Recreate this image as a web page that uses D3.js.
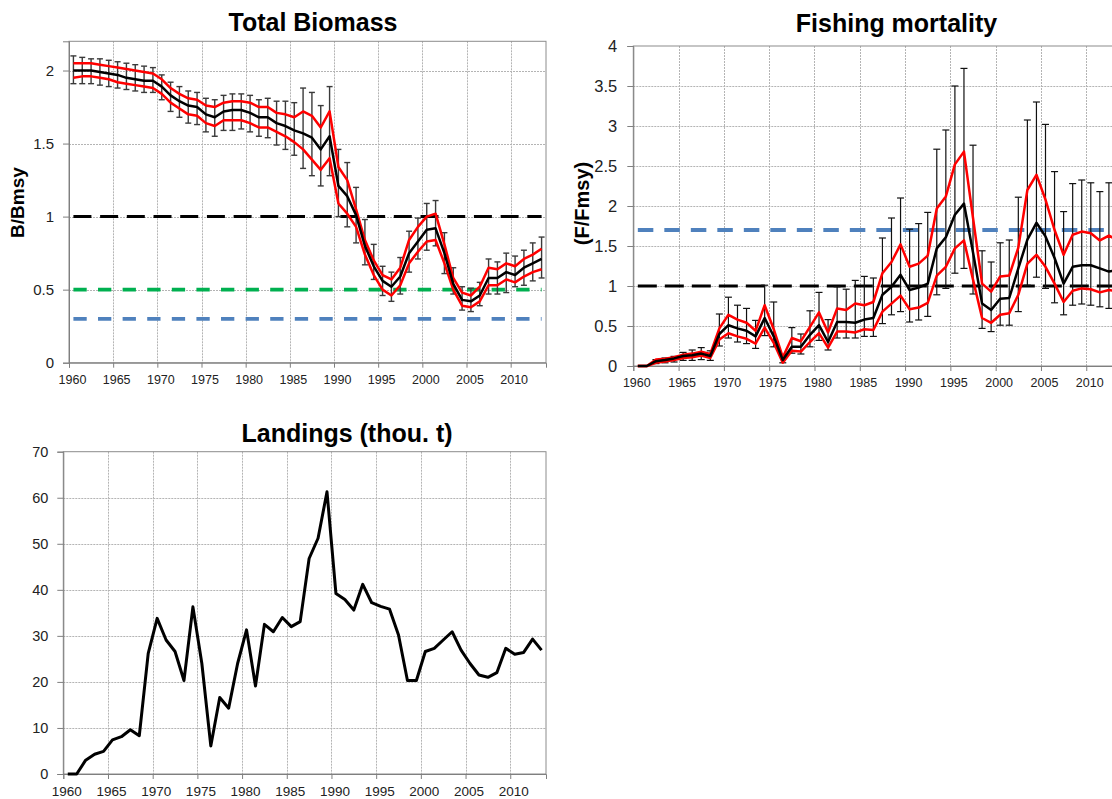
<!DOCTYPE html>
<html>
<head>
<meta charset="utf-8">
<script src="https://cdn.jsdelivr.net/npm/d3@7"></script>
<style>
  body { margin: 0; background: #fff; }
  svg { display: block; }
  text { font-family: "Liberation Sans", Arial, sans-serif; }
</style>
</head>
<body>
<svg id="chart" width="1112" height="799"></svg>
<script>
// ---- data: one value per year, 1960-2013 ----
const years = d3.range(1960, 2014);
const yearTicks = d3.range(1960, 2011, 5);

// Total biomass relative to Bmsy
const biomassMean = [2.00,2.00,2.00,1.99,1.98,1.97,1.95,1.94,1.93,1.93,
  1.89,1.83,1.79,1.76,1.75,1.70,1.68,1.72,1.73,1.73,
  1.71,1.68,1.68,1.64,1.62,1.59,1.57,1.54,1.46,1.55,
  1.21,1.14,1.01,0.80,0.66,0.56,0.52,0.59,0.75,0.83,
  0.91,0.92,0.75,0.54,0.43,0.42,0.46,0.58,0.58,0.62,
  0.60,0.65,0.68,0.71];
const biomassUpper = [2.05,2.05,2.05,2.04,2.03,2.02,2.01,2.00,1.99,1.98,
  1.94,1.88,1.84,1.81,1.80,1.76,1.75,1.78,1.79,1.79,
  1.78,1.75,1.75,1.71,1.70,1.68,1.72,1.69,1.61,1.72,
  1.34,1.25,1.05,0.84,0.70,0.60,0.57,0.65,0.84,0.93,
  1.00,1.02,0.81,0.58,0.48,0.46,0.52,0.65,0.64,0.68,
  0.66,0.71,0.74,0.78];
const biomassLower = [1.95,1.96,1.96,1.95,1.94,1.92,1.91,1.90,1.89,1.88,
  1.84,1.78,1.74,1.70,1.69,1.64,1.62,1.66,1.66,1.66,
  1.64,1.61,1.61,1.58,1.55,1.51,1.46,1.39,1.32,1.40,
  1.09,1.02,0.93,0.74,0.60,0.50,0.46,0.53,0.68,0.76,
  0.83,0.84,0.68,0.50,0.39,0.38,0.42,0.53,0.53,0.57,
  0.55,0.59,0.62,0.64];
const biomassErrHigh = [2.10,2.09,2.08,2.08,2.07,2.06,2.05,2.04,2.03,2.02,
  1.97,1.92,1.89,1.86,1.85,1.81,1.80,1.83,1.84,1.84,
  1.83,1.80,1.81,1.79,1.79,1.78,1.88,1.85,1.76,1.89,
  1.46,1.37,1.20,0.98,0.81,0.66,0.62,0.72,0.90,0.99,
  1.09,1.11,0.89,0.65,0.52,0.51,0.55,0.71,0.69,0.75,
  0.73,0.77,0.82,0.86];
const biomassErrLow = [1.91,1.91,1.91,1.90,1.89,1.88,1.87,1.86,1.85,1.85,
  1.80,1.72,1.68,1.64,1.63,1.58,1.55,1.59,1.59,1.60,
  1.58,1.55,1.54,1.49,1.46,1.42,1.33,1.28,1.21,1.28,
  1.00,0.93,0.82,0.67,0.57,0.46,0.42,0.47,0.62,0.71,
  0.77,0.80,0.61,0.47,0.36,0.35,0.39,0.47,0.47,0.48,
  0.52,0.53,0.56,0.58];
const biomassRefLevels = [1.0, 0.5, 0.3];
const biomassTicks = [0, 0.5, 1, 1.5, 2];

// Fishing mortality relative to Fmsy
const fishingMean = [0,0,0.06,0.075,0.095,0.125,0.135,0.155,0.125,0.40,
  0.51,0.47,0.44,0.37,0.60,0.37,0.075,0.24,0.24,0.39,
  0.51,0.30,0.55,0.55,0.54,0.58,0.60,0.89,0.99,1.14,
  0.95,0.98,1.03,1.47,1.61,1.89,2.03,1.42,0.78,0.70,
  0.84,0.85,1.22,1.58,1.79,1.62,1.35,1.03,1.24,1.26,
  1.26,1.22,1.18,1.20];
const fishingUpper = [0,0,0.08,0.09,0.11,0.14,0.155,0.18,0.15,0.47,
  0.64,0.58,0.54,0.44,0.76,0.46,0.11,0.35,0.31,0.49,
  0.67,0.42,0.72,0.70,0.78,0.76,0.80,1.16,1.30,1.52,
  1.24,1.28,1.38,1.97,2.12,2.52,2.68,1.85,1.03,0.93,
  1.12,1.13,1.48,2.20,2.39,2.08,1.70,1.39,1.64,1.68,
  1.66,1.57,1.63,1.57];
const fishingLower = [0,0,0.04,0.055,0.075,0.10,0.11,0.13,0.10,0.33,
  0.41,0.37,0.34,0.28,0.48,0.29,0.04,0.19,0.18,0.30,
  0.41,0.23,0.43,0.43,0.42,0.46,0.45,0.68,0.78,0.88,
  0.71,0.73,0.79,1.13,1.24,1.47,1.57,1.08,0.60,0.54,
  0.64,0.66,0.89,1.28,1.39,1.24,1.03,0.80,0.94,0.97,
  0.96,0.92,0.95,0.93];
const fishingErrHigh = [0,0,0.08,0.10,0.12,0.17,0.20,0.23,0.19,0.65,
  0.86,0.76,0.72,0.57,1.01,0.80,0.14,0.48,0.40,0.69,
  0.92,0.58,0.99,0.96,1.07,1.12,1.10,1.60,1.85,2.10,
  1.71,1.78,1.92,2.71,2.95,3.50,3.72,2.76,1.44,1.30,
  1.54,1.575,2.11,3.075,3.30,3.02,2.43,1.93,2.28,2.325,
  2.29,2.18,2.29,2.25];
const fishingErrLow = [0,0,0.03,0.04,0.05,0.07,0.07,0.08,0.07,0.25,
  0.35,0.30,0.28,0.22,0.38,0.24,0.04,0.16,0.15,0.24,
  0.32,0.20,0.35,0.35,0.35,0.37,0.37,0.53,0.64,0.68,
  0.55,0.575,0.62,0.89,0.97,1.16,1.22,0.90,0.47,0.43,
  0.51,0.51,0.68,1.01,1.11,0.97,0.79,0.64,0.76,0.775,
  0.76,0.74,0.72,0.73];
const fishingRefLevels = [1.7, 1.0];
const fishingTicks = [0, 0.5, 1, 1.5, 2, 2.5, 3, 3.5, 4];

// Landings, thousand tonnes
const landings = [0,0,3.0,4.3,4.9,7.4,8.1,9.6,8.3,26.2,
  33.8,29.1,26.6,20.3,36.3,24.0,6.1,16.6,14.3,24.0,
  31.3,19.1,32.5,30.9,34.0,32.0,33.1,46.8,51.2,61.3,
  39.2,37.9,35.6,41.2,37.2,36.4,35.8,30.2,20.3,20.3,
  26.6,27.3,29.1,30.9,26.9,24.0,21.5,21.0,22.0,27.3,
  26.0,26.4,29.3,26.9];
const landingsTicks = [0, 10, 20, 30, 40, 50, 60, 70];

// ---- drawing ----
const svg = d3.select('#chart');
svg.append('rect').attr('width', 1112).attr('height', 799).attr('fill', '#fff');

function makePanel(cfg) {
  const x = d3.scaleLinear().domain([1960, 2014]).range([cfg.left, cfg.right]);
  const y = d3.scaleLinear().domain([0, cfg.yMax]).range([cfg.bottom, cfg.top]);
  const px = i => x(years[i] + 0.5);   // each year sits in the middle of its slot
  const g = svg.append('g');

  // grid
  const grid = g.append('g').attr('stroke', '#b4b4b4').attr('stroke-width', 1)
    .attr('stroke-dasharray', '2,1');
  grid.selectAll('.gx').data(yearTicks.slice(1)).join('line')
    .attr('x1', d => Math.round(x(d)) + 0.5).attr('x2', d => Math.round(x(d)) + 0.5)
    .attr('y1', cfg.top).attr('y2', cfg.bottom);
  grid.selectAll('.gy').data(cfg.yTicks.filter(v => v > 0 && v < cfg.yMax)).join('line')
    .attr('x1', cfg.left).attr('x2', cfg.right)
    .attr('y1', d => Math.round(y(d)) + 0.5).attr('y2', d => Math.round(y(d)) + 0.5);

  // frame
  g.append('rect').attr('x', cfg.left).attr('y', cfg.top)
    .attr('width', cfg.right - cfg.left).attr('height', cfg.bottom - cfg.top)
    .attr('fill', 'none').attr('stroke', '#8c8c8c').attr('stroke-width', 1);

  // axes
  const yAxis = g.append('g').attr('transform', `translate(${cfg.left},0)`)
    .call(d3.axisLeft(y).tickValues(cfg.yTicks).tickSize(6).tickPadding(cfg.yPad)
      .tickFormat(d => String(d)));
  const xAxis = g.append('g').attr('transform', `translate(0,${cfg.bottom})`)
    .call(d3.axisBottom(x).tickValues(yearTicks).tickSize(5).tickPadding(cfg.xPad)
      .tickFormat(d3.format('d')));
  [yAxis, xAxis].forEach(a => {
    a.select('.domain').attr('stroke', '#7f7f7f');
    a.selectAll('.tick line').attr('stroke', '#7f7f7f');
    a.selectAll('text').attr('fill', '#222').attr('font-family', '"Liberation Sans", Arial, sans-serif');
  });
  yAxis.selectAll('text').attr('font-size', cfg.yFont);
  xAxis.selectAll('text').attr('font-size', cfg.xFont).attr('dx', 3);

  // title
  g.append('text').attr('x', cfg.titleX).attr('y', cfg.titleY)
    .attr('text-anchor', 'middle').attr('font-weight', 'bold').attr('font-size', 25)
    .attr('fill', '#000').text(cfg.title);
  if (cfg.yLabel) {
    g.append('text')
      .attr('transform', `translate(${cfg.yLabelX},${cfg.yLabelY}) rotate(-90)`)
      .attr('text-anchor', 'middle').attr('font-weight', 'bold')
      .attr('font-size', cfg.yLabelFont).attr('fill', '#000').text(cfg.yLabel);
  }
  return { g, x, y, px };
}

function refLine(p, value, color, width, dash) {
  p.g.append('line')
    .attr('x1', p.px(0)).attr('x2', p.px(years.length - 1))
    .attr('y1', p.y(value)).attr('y2', p.y(value))
    .attr('stroke', color).attr('stroke-width', width)
    .attr('stroke-dasharray', dash);
}

function errorBars(p, lo, hi, color, width, cap) {
  const eb = p.g.append('g').attr('stroke', color).attr('stroke-width', width);
  years.forEach((yr, i) => {
    if (hi[i] - lo[i] <= 0) return;
    const cx = p.px(i);
    eb.append('line').attr('x1', cx).attr('x2', cx).attr('y1', p.y(lo[i])).attr('y2', p.y(hi[i]));
    eb.append('line').attr('x1', cx - cap).attr('x2', cx + cap).attr('y1', p.y(lo[i])).attr('y2', p.y(lo[i]));
    eb.append('line').attr('x1', cx - cap).attr('x2', cx + cap).attr('y1', p.y(hi[i])).attr('y2', p.y(hi[i]));
  });
}

function series(p, values, color, width) {
  const line = d3.line().x((d, i) => p.px(i)).y(d => p.y(d));
  p.g.append('path').datum(values).attr('d', line)
    .attr('fill', 'none').attr('stroke', color).attr('stroke-width', width)
    .attr('stroke-linejoin', 'round');
}

// Total biomass
const pB = makePanel({
  left: 69, right: 546, top: 41.3, bottom: 362.7, yMax: 2.2, yTicks: biomassTicks,
  yFont: 15, xFont: 12.5, yPad: 9, xPad: 7,
  title: 'Total Biomass', titleX: 313, titleY: 31,
  yLabel: 'B/Bmsy', yLabelX: 23.5, yLabelY: 202.5, yLabelFont: 19
});
refLine(pB, biomassRefLevels[0], '#000', 3, '18,8.7');
refLine(pB, biomassRefLevels[1], '#00b050', 3.8, '13.3,11.3');
refLine(pB, biomassRefLevels[2], '#4f81bd', 3.8, '13.3,11.3');
errorBars(pB, biomassErrLow, biomassErrHigh, '#3a3a3a', 1.4, 3);
series(pB, biomassUpper, '#ff0000', 2.5);
series(pB, biomassLower, '#ff0000', 2.5);
series(pB, biomassMean, '#000', 2.5);

// Fishing mortality
const pF = makePanel({
  left: 633.3, right: 1122.5, top: 46, bottom: 366, yMax: 4, yTicks: fishingTicks,
  yFont: 16.5, xFont: 12.5, yPad: 10, xPad: 7,
  title: 'Fishing mortality', titleX: 896.5, titleY: 31.5,
  yLabel: '(F/Fmsy)', yLabelX: 589, yLabelY: 203.5, yLabelFont: 20
});
refLine(pF, fishingRefLevels[0], '#4f81bd', 3.8, '15.5,11');
refLine(pF, fishingRefLevels[1], '#000', 3, '19,8');
errorBars(pF, fishingErrLow, fishingErrHigh, '#111', 1.2, 3.5);
series(pF, fishingUpper, '#ff0000', 2.5);
series(pF, fishingLower, '#ff0000', 2.5);
series(pF, fishingMean, '#000', 2.5);

// Landings
const pL = makePanel({
  left: 63.3, right: 546, top: 451.7, bottom: 774, yMax: 70, yTicks: landingsTicks,
  yFont: 14.5, xFont: 13.5, yPad: 9, xPad: 7,
  title: 'Landings (thou. t)', titleX: 347, titleY: 441.5
});
series(pL, landings, '#000', 3);
</script>
</body>
</html>
